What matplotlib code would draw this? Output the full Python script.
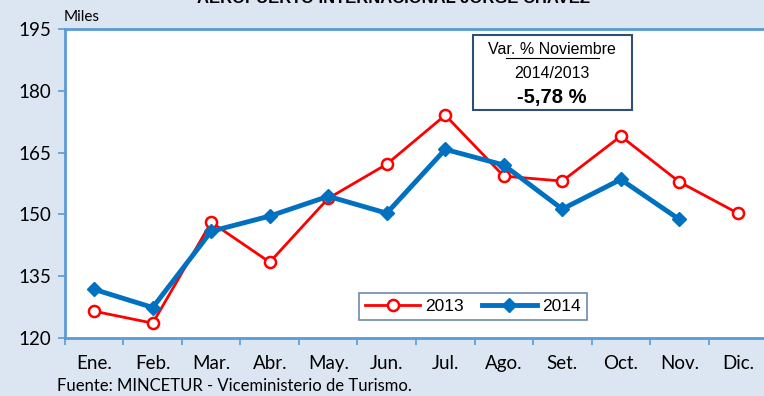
import numpy as np
import matplotlib.pyplot as plt

meses = ['Ene.', 'Feb.', 'Mar.', 'Abr.', 'May.', 'Jun.', 'Jul.', 'Ago.', 'Set.', 'Oct.', 'Nov.', 'Dic.']
y2013 = [126.5, 123.6, 148.1, 138.4, 153.9, 162.2, 174.1, 159.3, 158.1, 169.0, 157.9, 150.3]
y2014 = [131.8, 127.4, 145.9, 149.6, 154.4, 150.3, 165.8, 162.0, 151.3, 158.5, 148.8]
yticks = [120, 135, 150, 165, 180, 195]

bg = '#dce6f2'
borde = '#5b9bd5'
ff = 'Lato'

fig = plt.figure(figsize=(7.64, 3.96), dpi=100, facecolor=bg)
ax = fig.add_axes([0.085, 0.1465, 0.919, 0.780])
ax.set_facecolor('white')

x13 = np.arange(1, len(y2013) + 1)
x14 = np.arange(1, len(y2014) + 1)
ax.plot(x13, y2013, color='#ff0000', lw=2, marker='o', ms=8,
        mfc='white', mec='#ff0000', mew=1.8, label='2013', zorder=3)
ax.plot(x14, y2014, color='#0070c0', lw=3.5, marker='D', ms=7,
        mfc='#0070c0', mec='#0070c0', label='2014', zorder=4)

ax.set_xlim(0.5, 12.5)
ax.set_ylim(120, 195)
ax.set_yticks(yticks)
ax.set_yticklabels([str(v) for v in yticks], fontfamily=ff, fontsize=13.5)
ax.set_xticks(x13)
ax.set_xticklabels(meses, fontfamily=ff, fontsize=13.5)
ax.set_xticks(np.arange(0.5, 13, 1), minor=True)
ax.tick_params(axis='x', which='major', length=0, pad=12)
ax.tick_params(axis='x', which='minor', length=5, color=borde, width=1.2)
ax.tick_params(axis='y', length=5, color=borde, width=1.2, pad=5)
for s in ax.spines.values():
    s.set_color(borde)
    s.set_linewidth(2)

leg = ax.legend(loc='lower center', bbox_to_anchor=(0.581, 0.03), ncol=2,
                frameon=True, fancybox=False, edgecolor='#4a6c96',
                prop={'family': 'Liberation Sans', 'size': 12.5},
                handlelength=3.2, handletextpad=0.3, columnspacing=1.0,
                borderpad=0.35)
leg.get_frame().set_linewidth(1.2)

# cuadro de variación
ax.text(0.694, 0.935, 'Var. % Noviembre', transform=ax.transAxes, ha='center', va='center',
        fontfamily='Liberation Sans', fontsize=11.5)
ax.plot([0.6285, 0.760], [0.905, 0.905], transform=ax.transAxes, color='black', lw=0.8)
ax.text(0.694, 0.855, '2014/2013', transform=ax.transAxes, ha='center', va='center',
        fontfamily='Liberation Sans', fontsize=11.5)
ax.text(0.694, 0.777, '-5,78 %', transform=ax.transAxes, ha='center', va='center',
        fontfamily='Liberation Sans', fontsize=14.5, fontweight='bold')
ax.add_patch(plt.Rectangle((0.581, 0.738), 0.2265, 0.243, transform=ax.transAxes,
                           fill=False, edgecolor='#2f4f75', lw=1.5, zorder=5))

fig.text(0.515, 1.005, 'AEROPUERTO INTERNACIONAL JORGE CHAVEZ', ha='center', va='center',
         fontfamily='Liberation Sans', fontsize=12, fontweight='bold')
fig.text(0.083, 0.957, 'Miles', ha='left', va='center', fontfamily=ff, fontsize=11)
fig.text(0.075, 0.025, 'Fuente: MINCETUR - Viceministerio de Turismo.', ha='left', va='center',
         fontfamily=ff, fontsize=12)

fig.savefig('out.png', dpi=100, facecolor=bg)
